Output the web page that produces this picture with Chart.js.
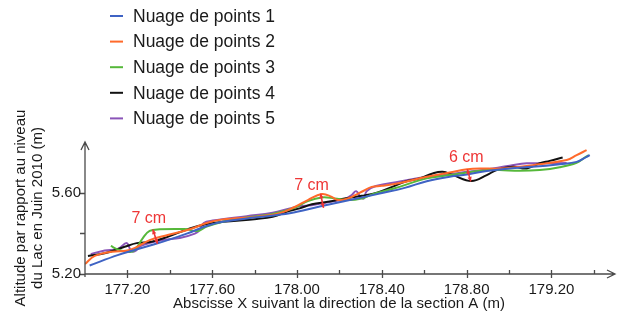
<!DOCTYPE html>
<html lang="fr">
<head>
<meta charset="utf-8">
<title>Profil section A</title>
<script src="https://cdn.jsdelivr.net/npm/chart.js@4.4.1/dist/chart.umd.min.js"></script>
<style>
  html, body { margin: 0; padding: 0; background: #fff; }
  #profil { display: block; }
</style>
</head>
<body>
<canvas id="profil" width="620" height="320"></canvas>
<script>
// ---- données : abscisse X (m) / altitude (m) ----
const nuage1X = [177.022, 177.154, 177.234, 177.315, 177.390, 177.480, 177.574, 177.650, 177.810, 177.966, 178.107, 178.249, 178.390, 178.508, 178.612, 178.720, 178.801, 178.895, 179.003, 179.112, 179.239, 179.319, 179.366, 179.381];
const nuage1Y = [5.242, 5.293, 5.318, 5.343, 5.367, 5.399, 5.436, 5.457, 5.479, 5.499, 5.532, 5.564, 5.596, 5.624, 5.657, 5.679, 5.690, 5.707, 5.720, 5.728, 5.741, 5.752, 5.777, 5.785];

const nuage2X = [177.000, 177.046, 177.126, 177.211, 177.305, 177.390, 177.494, 177.574, 177.650, 177.810, 177.918, 177.989, 178.051, 178.117, 178.164, 178.193, 178.240, 178.305, 178.352, 178.400, 178.485, 178.612, 178.720, 178.803, 178.862, 178.956, 179.112, 179.272, 179.319, 179.366];
const nuage2Y = [5.249, 5.289, 5.310, 5.318, 5.367, 5.392, 5.420, 5.451, 5.469, 5.482, 5.499, 5.530, 5.564, 5.594, 5.580, 5.564, 5.572, 5.605, 5.629, 5.634, 5.648, 5.679, 5.700, 5.716, 5.720, 5.719, 5.736, 5.761, 5.785, 5.810];

const nuage3X = [177.122, 177.154, 177.192, 177.230, 177.272, 177.305, 177.352, 177.470, 177.532, 177.574, 177.650, 177.730, 177.885, 177.989, 178.051, 178.117, 178.178, 178.240, 178.305, 178.367, 178.461, 178.612, 178.720, 178.801, 178.895, 178.956, 179.050, 179.145, 179.239, 179.319, 179.357, 179.376];
const nuage3Y = [5.338, 5.321, 5.311, 5.313, 5.376, 5.412, 5.420, 5.421, 5.412, 5.433, 5.457, 5.474, 5.495, 5.526, 5.559, 5.577, 5.572, 5.564, 5.572, 5.597, 5.622, 5.671, 5.687, 5.700, 5.712, 5.712, 5.708, 5.712, 5.726, 5.748, 5.773, 5.785];

const nuage4X = [177.014, 177.093, 177.187, 177.244, 177.315, 177.390, 177.494, 177.574, 177.650, 177.810, 177.885, 177.966, 178.013, 178.070, 178.145, 178.225, 178.305, 178.381, 178.461, 178.508, 178.579, 178.640, 178.687, 178.735, 178.823, 178.895, 178.942, 179.018, 179.084, 179.145, 179.192, 179.253];
const nuage4Y = [5.289, 5.302, 5.334, 5.352, 5.359, 5.383, 5.424, 5.446, 5.457, 5.471, 5.482, 5.511, 5.523, 5.543, 5.556, 5.572, 5.585, 5.602, 5.634, 5.654, 5.671, 5.695, 5.703, 5.687, 5.658, 5.687, 5.712, 5.728, 5.720, 5.745, 5.757, 5.774];

const nuage5X = [177.027, 177.093, 177.154, 177.197, 177.216, 177.234, 177.267, 177.367, 177.447, 177.518, 177.541, 177.560, 177.602, 177.763, 177.885, 177.966, 178.013, 178.070, 178.145, 178.225, 178.258, 178.279, 178.300, 178.315, 178.329, 178.372, 178.485, 178.612, 178.720, 178.801, 178.876, 179.003, 179.084, 179.159, 179.272];
const nuage5Y = [5.298, 5.316, 5.323, 5.352, 5.316, 5.311, 5.340, 5.367, 5.377, 5.399, 5.416, 5.451, 5.463, 5.485, 5.502, 5.523, 5.534, 5.539, 5.553, 5.569, 5.589, 5.608, 5.579, 5.572, 5.608, 5.633, 5.655, 5.679, 5.690, 5.703, 5.712, 5.733, 5.745, 5.745, 5.747];

const seriesNames = ["Nuage de points 1", "Nuage de points 2", "Nuage de points 3", "Nuage de points 4", "Nuage de points 5"];
const seriesColors = ["#3f63c4", "#ff6a2b", "#56b83a", "#111111", "#8a54b8"];

// graduations
const xMajorTicks = [177.2, 177.6, 178.0, 178.4, 178.8, 179.2];
const xMinorTicks = [177.4, 177.8, 178.2, 178.6, 179.0, 179.4];
const yMajorTicks = [5.2, 5.6];
const yMinorTicks = [5.4];

// écarts cotés : abscisse du haut, abscisse du bas, altitude du haut, écart en cm
const ecartXHaut = [177.320, 178.111, 178.803];
const ecartXBas = [177.342, 178.125, 178.820];
const ecartYHaut = [5.419, 5.596, 5.716];
const ecartCm = [7, 7, 6];

const toPoints = (xs, ys) => xs.map((x, i) => ({ x: x, y: ys[i] }));
const pointSets = [
  toPoints(nuage1X, nuage1Y),
  toPoints(nuage2X, nuage2Y),
  toPoints(nuage3X, nuage3Y),
  toPoints(nuage4X, nuage4Y),
  toPoints(nuage5X, nuage5Y)
];

const FONT = "'Liberation Sans', Arial, sans-serif";
const ROUGE = "#ee3636";

function fleche(ctx, x1, y1, x2, y2) {
  const ang = Math.atan2(y2 - y1, x2 - x1);
  const tete = (px, py, a) => {
    ctx.beginPath();
    ctx.moveTo(px, py);
    ctx.lineTo(px - 5 * Math.cos(a - 0.45), py - 5 * Math.sin(a - 0.45));
    ctx.lineTo(px - 5 * Math.cos(a + 0.45), py - 5 * Math.sin(a + 0.45));
    ctx.closePath();
    ctx.fill();
  };
  ctx.beginPath();
  ctx.moveTo(x1, y1);
  ctx.lineTo(x2, y2);
  ctx.stroke();
  tete(x1, y1, ang + Math.PI);
  tete(x2, y2, ang);
}

// axes fléchés, graduations, titres, légende et cotes
const habillage = {
  id: "habillage",
  afterDraw(chart) {
    const { ctx, chartArea: a } = chart;
    const sx = chart.scales.x, sy = chart.scales.y;
    const x0 = a.left, y0 = a.bottom;
    ctx.save();

    ctx.strokeStyle = "#4a4a4a";
    ctx.lineWidth = 1.3;
    ctx.beginPath();
    ctx.moveTo(x0, y0 + 3);
    ctx.lineTo(x0, a.top);
    ctx.moveTo(x0, y0);
    ctx.lineTo(a.right, y0);
    // pointes des axes
    ctx.moveTo(x0 - 4, a.top + 8);
    ctx.lineTo(x0, a.top);
    ctx.lineTo(x0 + 4, a.top + 8);
    ctx.moveTo(a.right - 8, y0 - 4);
    ctx.lineTo(a.right, y0);
    ctx.lineTo(a.right - 8, y0 + 4);
    ctx.stroke();

    ctx.beginPath();
    xMajorTicks.forEach(v => {
      const px = Math.round(sx.getPixelForValue(v)) + 0.5;
      ctx.moveTo(px, y0 - 4);
      ctx.lineTo(px, y0 + 4);
    });
    xMinorTicks.forEach(v => {
      const px = Math.round(sx.getPixelForValue(v)) + 0.5;
      ctx.moveTo(px, y0 - 4);
      ctx.lineTo(px, y0);
    });
    yMajorTicks.concat(yMinorTicks).forEach(v => {
      const py = Math.round(sy.getPixelForValue(v)) + 0.5;
      ctx.moveTo(x0 - 5, py);
      ctx.lineTo(x0, py);
    });
    ctx.stroke();

    ctx.fillStyle = "#1a1a1a";
    ctx.font = "15px " + FONT;
    ctx.textAlign = "center";
    ctx.textBaseline = "alphabetic";
    xMajorTicks.forEach(v => {
      ctx.fillText(v.toFixed(2), sx.getPixelForValue(v), y0 + 20);
    });
    // titre de l'axe X
    ctx.fillText("Abscisse X suivant la direction de la section A (m)", 339, 308);

    ctx.textAlign = "right";
    ctx.textBaseline = "middle";
    yMajorTicks.forEach(v => {
      ctx.fillText(v.toFixed(2), x0 - 4, sy.getPixelForValue(v));
    });

    // titre de l'axe Y, sur deux lignes
    ctx.textAlign = "center";
    ctx.save();
    ctx.translate(21, (a.top + a.bottom) / 2);
    ctx.rotate(-Math.PI / 2);
    ctx.fillText("Altitude par rapport au niveau", 0, 0);
    ctx.fillText("du Lac en Juin 2010 (m)", 0, 17);
    ctx.restore();

    // légende
    ctx.font = "17.5px " + FONT;
    ctx.textAlign = "left";
    chart.data.datasets.forEach((ds, i) => {
      const ly = 16 + i * 25.6;
      ctx.strokeStyle = ds.borderColor;
      ctx.lineWidth = 2;
      ctx.beginPath();
      ctx.moveTo(110, ly);
      ctx.lineTo(123, ly);
      ctx.stroke();
      ctx.fillStyle = "#1a1a1a";
      ctx.fillText(ds.label, 133, ly + 1);
    });

    // cotes rouges
    const decalX = [-4, -9, -1];
    const decalY = [-7, -4, -7];
    ctx.strokeStyle = ROUGE;
    ctx.fillStyle = ROUGE;
    ctx.lineWidth = 1.6;
    ctx.font = "16px " + FONT;
    ctx.textAlign = "center";
    ctx.textBaseline = "alphabetic";
    ecartCm.forEach((cm, i) => {
      const xh = sx.getPixelForValue(ecartXHaut[i]);
      const yh = sy.getPixelForValue(ecartYHaut[i]);
      const xb = sx.getPixelForValue(ecartXBas[i]);
      const yb = sy.getPixelForValue(ecartYHaut[i] - cm / 100);
      fleche(ctx, xh, yh, xb, yb);
      ctx.fillText(cm + " cm", xh + decalX[i], yh + decalY[i]);
    });

    ctx.restore();
  }
};

new Chart(document.getElementById("profil"), {
  type: "line",
  data: {
    datasets: pointSets.map((pts, i) => ({
      label: seriesNames[i],
      data: pts,
      borderColor: seriesColors[i],
      backgroundColor: seriesColors[i],
      borderWidth: 2,
      pointRadius: 0,
      tension: 0.4,
      fill: false
    }))
  },
  options: {
    responsive: false,
    devicePixelRatio: 1,
    animation: false,
    layout: { padding: { left: 85, right: 5, top: 142, bottom: 46 } },
    plugins: { legend: { display: false }, tooltip: { enabled: false } },
    scales: {
      x: { type: "linear", min: 177.0, max: 179.5, display: false },
      y: { type: "linear", min: 5.2, max: 5.85, display: false }
    }
  },
  plugins: [habillage]
});
</script>
</body>
</html>
